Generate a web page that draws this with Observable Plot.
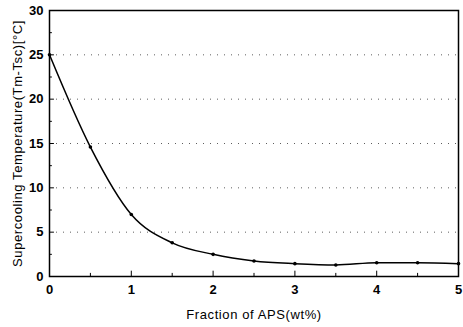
<!DOCTYPE html>
<html><head><meta charset="utf-8">
<script src="https://cdn.jsdelivr.net/npm/d3@7"></script>
<script src="https://cdn.jsdelivr.net/npm/@observablehq/plot@0.6"></script>
<style>
body{margin:0;background:#fff;}
#c{position:absolute;left:0;top:0;}
</style>
</head><body><div id="c"></div>
<script>
const fraction = [0, 0.5, 1, 1.5, 2, 2.5, 3, 3.5, 4, 4.5, 5];
const supercooling = [25, 14.6, 7.0, 3.8, 2.5, 1.75, 1.45, 1.3, 1.55, 1.55, 1.45];
const xTicks = [0, 1, 2, 3, 4, 5];
const xMinor = [0.5, 1.5, 2.5, 3.5, 4.5];
const yTicks = [0, 5, 10, 15, 20, 25, 30];
const yMinor = [2.5, 7.5, 12.5, 17.5, 22.5, 27.5];
const gridY = [5, 10, 15, 20, 25];
const xLabel = "Fraction of APS(wt%)";
const yLabel = "Supercooling Temperature(Tm-Tsc)[°C]";

const data = fraction.map((x, i) => ({x, y: supercooling[i]}));
const font = "Liberation Sans, Arial, sans-serif";

const chart = Plot.plot({
  width: 463, height: 327,
  marginLeft: 49, marginRight: 5, marginTop: 10, marginBottom: 51,
  style: {fontFamily: font, background: "#fff", color: "#000", overflow: "visible"},
  x: {domain: [0, 5]},
  y: {domain: [0, 30]},
  marks: [
    Plot.ruleY(gridY, {stroke: "#000", strokeWidth: 0.8, strokeDasharray: "1,6", strokeOpacity: 0.8}),
    Plot.ruleX(xTicks, {y1: 0, y2: 0.6, stroke: "#000", strokeWidth: 1}),
    Plot.ruleX(xMinor, {y1: 0, y2: 0.35, stroke: "#000", strokeWidth: 1}),
    Plot.ruleY(yTicks, {x1: 0, x2: 0.06, stroke: "#000", strokeWidth: 1}),
    Plot.ruleY(yMinor, {x1: 0, x2: 0.035, stroke: "#000", strokeWidth: 1}),
    Plot.frame({stroke: "#000", strokeWidth: 1.5}),
    Plot.axisX(xTicks, {tickSize: 0, tickPadding: 8, fontSize: 13, fontWeight: "bold", label: null}),
    Plot.axisY(yTicks, {tickSize: 0, tickPadding: 6, fontSize: 13, fontWeight: "bold", label: null}),
    Plot.line(data, {x: "x", y: "y", curve: "monotone-x", stroke: "#000", strokeWidth: 1.5}),
    Plot.dot(data, {x: "x", y: "y", r: 1.8, fill: "#000", stroke: null}),
    Plot.text([xLabel], {frameAnchor: "bottom", dy: 42, fontSize: 13, fill: "#000", style: "letter-spacing:0.6px"}),
    Plot.text([yLabel], {frameAnchor: "left", textAnchor: "middle", dx: -32, rotate: -90, fontSize: 13, fill: "#000"})
  ]
});
document.querySelectorAll; 
document.getElementById("c").appendChild(chart);
chart.querySelectorAll("text").forEach(t => {
  if (t.textContent === xLabel || t.textContent === yLabel) t.style.letterSpacing = "0.6px";
});
</script>
</body></html>
